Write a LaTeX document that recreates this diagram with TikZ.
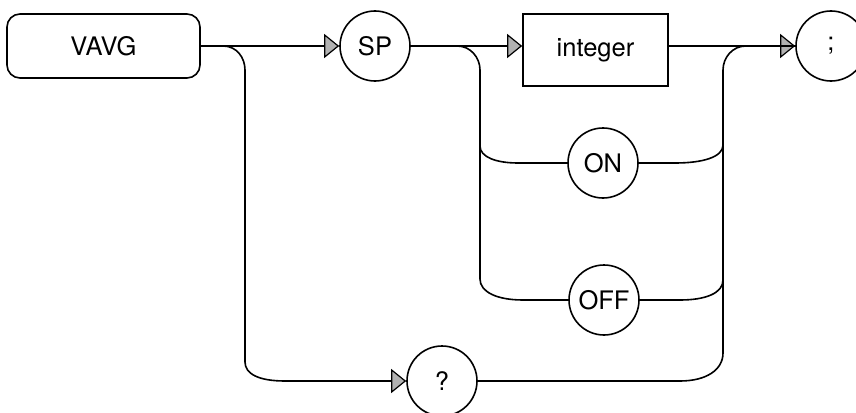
\documentclass[tikz,border=0pt]{standalone}
\usepackage{fontspec}
\setmainfont{TeX Gyre Heros}
\usetikzlibrary{arrows.meta,calc}
\begin{document}
\begin{tikzpicture}[x=1pt,y=-1pt,
  line width=1.6pt,
  every node/.style={font=\fontsize{25.5}{30}\selectfont},
  term/.style={draw, circle, minimum size=70pt, inner sep=0pt},
  nonterm/.style={draw, rectangle, minimum width=145pt, minimum height=72pt, inner sep=0pt},
  cmd/.style={draw, rectangle, rounded corners=13pt, minimum width=193pt, minimum height=64pt, inner sep=0pt},
  arr/.style={-{Triangle[length=15pt,width=24pt,fill=gray!60,line width=1.2pt]}}]
\useasboundingbox (0,0) rectangle (856,412);
\fill[white] (0,0) rectangle (856,412);
\node[cmd] (vavg) at (103.5,46) {VAVG};
\node[term] (sp) at (375,46) {SP};
\node[nonterm] (int) at (595.5,50) {integer};
\node[term] (semi) at (831,46) {;};
\node[term] (on) at (603,163) {ON};
\node[term] (off) at (604,300) {OFF};
\node[term] (q) at (442,381) {?};
\coordinate (ra) at (245,46);
\coordinate (rb) at (480,46);
\coordinate (rc) at (723,46);
% main line
\draw[arr] (vavg.east) -- (sp.west);
\draw[arr] (sp.east) -- (sp.east -| int.west);
\draw[arr] (sp.east -| int.east) -- (semi.west);
% left rail to ?
\draw[arr] (vavg.east) -- ($(ra)+(-22,0)$) .. controls +(14,0) and +(0,-12) .. ($(ra)+(0,24)$)
  -- ($(ra |- q.west)+(0,-19)$) .. controls +(0,12) and +(-26,0) .. ($(ra |- q.west)+(40,0)$) -- (q.west);
% SP rail to OFF
\draw (sp.east) -- ($(rb)+(-23,0)$) .. controls +(14,0) and +(0,-12) .. ($(rb)+(0,24)$)
  -- ($(rb |- off.west)+(0,-21)$) .. controls +(0,13) and +(-26,0) .. ($(rb |- off.west)+(43,0)$) -- (off.west);
% branch to ON
\draw ($(rb |- on.west)+(0,-17)$) .. controls +(0,11) and +(-22,0) .. ($(rb |- on.west)+(38,0)$) -- (on.west);
% ON to right rail
\draw (on.east) -- ($(rc |- on.east)+(-48,0)$) .. controls +(28,0) and +(0,12) .. ($(rc |- on.east)+(0,-18)$);
% OFF to right rail
\draw (off.east) -- ($(rc |- off.east)+(-43,0)$) .. controls +(26,0) and +(0,13) .. ($(rc |- off.east)+(0,-20)$);
% right rail from ? up to main line
\draw (q.east) -- ($(rc |- q.east)+(-43,0)$) .. controls +(26,0) and +(0,17) .. ($(rc |- q.east)+(0,-28)$)
  -- ($(rc)+(0,24)$) .. controls +(0,-12) and +(-14,0) .. ($(rc)+(23,0)$) -- (semi.west);
\end{tikzpicture}
\end{document}
